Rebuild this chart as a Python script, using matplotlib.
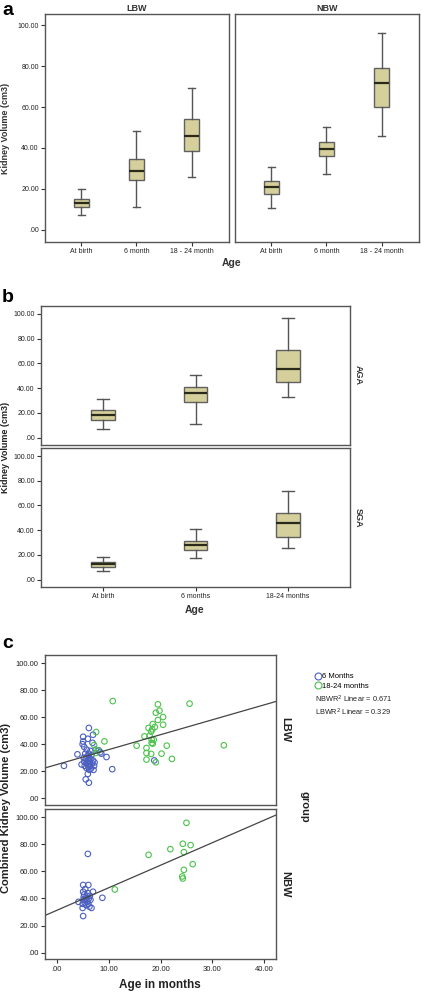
import numpy as np
import matplotlib
matplotlib.use("Agg")
import matplotlib.pyplot as plt
from matplotlib.lines import Line2D

# ---- data ----
ages_a = ["At birth", "6 month", "18 - 24 month"]
# whislo, q1, med, q3, whishi
lbw_box = [[7.3, 11.0, 13.2, 15.0, 20.0],
           [11.2, 24.4, 28.8, 34.5, 48.4],
           [26.0, 38.5, 45.9, 54.3, 69.4]]
nbw_box = [[10.7, 17.7, 21.0, 23.9, 30.9],
           [27.2, 35.9, 39.7, 42.8, 50.2],
           [46.0, 60.2, 71.9, 78.9, 95.9]]

ages_b = ["At birth", "6 months", "18-24 months"]
aga_box = [[7.0, 14.3, 18.4, 22.2, 30.8],
           [11.1, 28.4, 35.9, 41.1, 50.3],
           [32.4, 44.6, 55.7, 70.8, 96.7]]
sga_box = [[7.0, 10.5, 12.4, 14.3, 18.6],
           [17.3, 24.3, 27.8, 31.6, 41.1],
           [25.9, 34.6, 45.4, 53.8, 71.6]]

lbw_6m_x = [1.4, 4.0, 4.8, 5.0, 5.1, 5.1, 5.3, 5.2, 5.3, 5.4, 5.5, 5.6, 5.6, 5.7, 5.8, 5.8,
            5.9, 6.0, 6.0, 6.0, 6.1, 6.1, 6.2, 6.2, 6.2, 6.3, 6.3, 6.4, 6.4, 6.5, 6.5, 6.6,
            6.7, 6.8, 6.9, 7.0, 7.0, 7.1, 7.2, 7.3, 7.5, 8.1, 8.4, 8.6, 9.6, 10.7, 18.8]
lbw_6m_y = [24, 32.5, 25, 40, 42, 45.5, 38, 30, 27, 24, 33, 14, 29, 22.5, 36, 26,
            31, 44, 18, 28, 25, 23, 11.5, 52, 33, 30, 21, 27, 24, 35, 29, 22,
            32, 26, 41, 47, 28, 21, 24, 26.5, 36, 35.5, 34, 33, 30.5, 21.5, 28]
lbw_18m_x = [10.8, 25.6, 19.5, 19.8, 19.1, 20.5, 19.5, 18.5, 20.5, 18.9, 17.7, 18.4, 18.2,
             16.9, 17.9, 18.3, 18.7, 18.3, 18.5, 15.4, 21.2, 32.2, 17.3, 17.3, 18.2, 20.2,
             17.3, 22.2, 19.1, 7.6, 7.2, 9.2, 7.9, 7.5]
lbw_18m_y = [71.9, 70, 69.5, 64.8, 63.3, 60.1, 57.9, 54.9, 54.4, 52.7, 52, 51, 49.3,
             45.8, 46.3, 43.3, 43.3, 40.9, 40.4, 38.9, 38.9, 39.2, 37.2, 33.5, 32.8, 33,
             28.6, 29.1, 26.6, 49, 39.4, 42.1, 35.5, 33.5]

nbw_6m_x = [4.2, 5.0, 5.0, 5.1, 5.1, 5.1, 5.2, 5.2, 5.3, 5.4, 5.5, 5.6, 5.7, 5.8, 5.9, 6.0,
            6.0, 6.1, 6.1, 6.2, 6.3, 6.4, 6.5, 6.7, 7.0, 8.8]
nbw_6m_y = [37.5, 33, 36, 27, 50, 45, 41, 39, 43, 37, 47, 40, 35, 42, 38, 73,
            44, 50, 36, 40, 34, 42, 39, 33, 45, 40.5]
nbw_18m_x = [11.2, 17.7, 21.9, 25.0, 24.3, 25.8, 24.5, 26.2, 24.5, 24.2, 24.3]
nbw_18m_y = [46.7, 72.3, 76.5, 96, 80.5, 79.5, 74.3, 65.4, 61.2, 56.3, 54.8]

# fit lines (intercept, slope) as drawn
lbw_fit = [24.9, 1.106]
nbw_fit = [31.2, 1.67]

yticks = [0, 20, 40, 60, 80, 100]
ytick_labels = [".00", "20.00", "40.00", "60.00", "80.00", "100.00"]
xticks_c = [0, 10, 20, 30, 40]
xtick_labels_c = [".00", "10.00", "20.00", "30.00", "40.00"]

W, H = 422, 992
BOX_FILL = "#d5cf9b"
BLUE = "#4b5fc0"
GREEN = "#4cc24c"

fig = plt.figure(figsize=(W / 100, H / 100), dpi=100)
plt.rcParams['font.family'] = ['Liberation Sans', 'DejaVu Sans']


def add_ax(x0, y0, x1, y1):
    return fig.add_axes([x0 / W, 1 - y1 / H, (x1 - x0) / W, (y1 - y0) / H])


def ftext(x, y, s, **kw):
    fig.text(x / W, 1 - y / H, s, **kw)


def style(ax, fs=5):
    for sp in ax.spines.values():
        sp.set_color("#555555")
        sp.set_linewidth(1.0)
    ax.tick_params(direction="out", length=3, width=0.8, color="#333333",
                   labelsize=fs, pad=1.5, labelcolor="#222222")


def boxes(ax, stats, labels, width):
    st = [dict(whislo=s[0], q1=s[1], med=s[2], q3=s[3], whishi=s[4], fliers=[])
          for s in stats]
    ax.bxp(st, positions=range(len(st)), widths=width, patch_artist=True,
           showfliers=False,
           boxprops=dict(facecolor=BOX_FILL, edgecolor="#606060", linewidth=1.0),
           medianprops=dict(color="#2a2a1a", linewidth=1.6),
           whiskerprops=dict(color="#555555", linewidth=1.0),
           capprops=dict(color="#555555", linewidth=1.0))
    ax.set_xticks(range(len(labels)))
    ax.set_xticklabels(labels)
    ax.set_yticks(yticks)
    ax.set_yticklabels(ytick_labels)


# ---- panel a ----
ftext(2, 15, "a", fontsize=14, fontweight="bold")
ax1 = add_ax(45, 14, 229, 242)
ax2 = add_ax(235, 14, 419, 242)
for ax, data, ttl in [(ax1, lbw_box, "LBW"), (ax2, nbw_box, "NBW")]:
    boxes(ax, data, ages_a, 0.27)
    ax.set_xlim(-0.66, 2.68)
    ax.set_ylim(-5.9, 105.4)
    style(ax, 5)
    ax.set_title(ttl, fontsize=6.5, fontweight="bold", pad=2, color="#333333")
ax2.tick_params(axis="y", left=False, labelleft=False)
ftext(232, 266, "Age", fontsize=7.5, fontweight="bold", ha="center", color="#333333")
ftext(6, 128, "Kidney Volume (cm3)", fontsize=6.5, fontweight="bold", rotation=90,
      ha="center", va="center", color="#333333")

# ---- panel b ----
ftext(2, 302, "b", fontsize=14, fontweight="bold")
ax3 = add_ax(41, 306, 350, 444.7)
ax4 = add_ax(41, 448.3, 350, 586.7)
for ax, data, row in [(ax3, aga_box, "AGA"), (ax4, sga_box, "SGA")]:
    boxes(ax, data, ages_b, 0.25)
    ax.set_xlim(-0.67, 2.67)
    ax.set_ylim(-5.8, 106.3)
    style(ax, 5)
    ax.yaxis.set_label_position("right")
    ax.set_ylabel(row, rotation=270, fontsize=6.5, fontweight="bold",
                  labelpad=9, color="#333333")
ax3.tick_params(axis="x", bottom=False, labelbottom=False)
ftext(195, 613, "Age", fontsize=7.5, fontweight="bold", ha="center", color="#333333")
ftext(6, 447, "Kidney Volume (cm3)", fontsize=6.5, fontweight="bold", rotation=90,
      ha="center", va="center", color="#222222")

# ---- panel c ----
ftext(2, 648, "c", fontsize=14, fontweight="bold")
ax5 = add_ax(45, 655, 276, 805)
ax6 = add_ax(45, 809.3, 276, 959.3)
xs = np.array([-2.25, 42.25])
panels = [(ax5, lbw_6m_x, lbw_6m_y, lbw_18m_x, lbw_18m_y, lbw_fit, "LBW"),
          (ax6, nbw_6m_x, nbw_6m_y, nbw_18m_x, nbw_18m_y, nbw_fit, "NBW")]
for ax, bx, by, gx, gy, fit, row in panels:
    ax.scatter(bx, by, s=16, facecolors="none", edgecolors=BLUE, linewidths=0.8)
    ax.scatter(gx, gy, s=16, facecolors="none", edgecolors=GREEN, linewidths=0.8)
    ax.plot(xs, fit[0] + fit[1] * xs, color="#444444", linewidth=0.9)
    ax.set_xlim(-2.25, 42.25)
    ax.set_ylim(-5, 106)
    ax.set_yticks(yticks)
    ax.set_yticklabels(ytick_labels)
    ax.set_xticks(xticks_c)
    ax.set_xticklabels(xtick_labels_c)
    style(ax, 5.5)
    ax.yaxis.set_label_position("right")
    ax.set_ylabel(row, rotation=270, fontsize=8, fontweight="bold",
                  labelpad=10, color="#222222")
ax5.tick_params(axis="x", bottom=False, labelbottom=False)
ftext(160, 988, "Age in months", fontsize=8.5, fontweight="bold", ha="center",
      color="#222222")
ftext(6, 808, "Combined Kidney Volume (cm3)", fontsize=8, fontweight="bold",
      rotation=90, ha="center", va="center", color="#222222")
ftext(304, 807, "group", fontsize=8, fontweight="bold", rotation=270,
      ha="center", va="center", color="#222222")

handles = [Line2D([], [], marker="o", linestyle="none", markerfacecolor="none",
                  markeredgecolor=c, markersize=5, markeredgewidth=0.8)
           for c in (BLUE, GREEN)]
fig.legend(handles, ["6 Months", "18-24 months"], loc="upper left",
           bbox_to_anchor=(314 / W, 1 - 673 / H), frameon=False, fontsize=5.5,
           handletextpad=0.1, borderaxespad=0, borderpad=0, labelspacing=0.25,
           handlelength=1.0)
ftext(315, 716, "NBWR$^2$ Linear = 0.671\nLBWR$^2$ Linear = 0.329",
      fontsize=5.3, color="#222222", linespacing=1.25)

fig.savefig("out.png", dpi=100)
